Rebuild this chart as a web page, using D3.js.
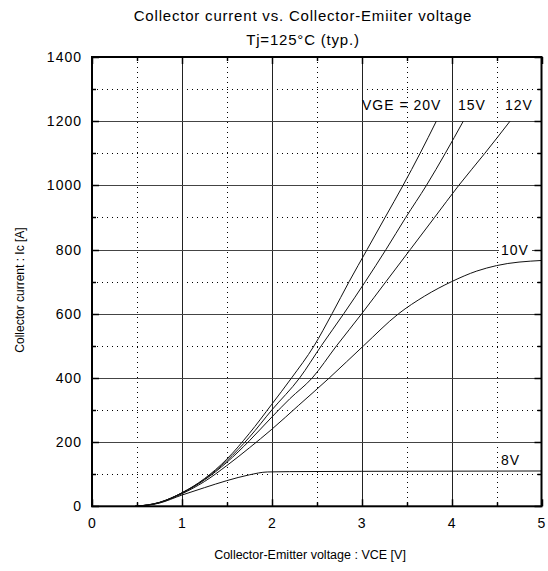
<!DOCTYPE html>
<html>
<head>
<meta charset="utf-8">
<script src="https://cdn.jsdelivr.net/npm/d3@7"></script>
<style>
  html, body { margin: 0; padding: 0; background: #fff; }
  svg text { font-family: "Liberation Sans", Arial, sans-serif; fill: #000; }
</style>
</head>
<body>
<svg id="chart" width="548" height="571"></svg>
<script>
// Output characteristics, Tj = 125 °C: [VCE (V), Ic (A)]
const vge20 = [[0.48,0],[0.75,12],[1,42],[1.25,86],[1.5,147],[1.75,227],[2,318],[2.22,400],[2.47,500],[2.67,600],[2.86,700],[3.06,800],[3.26,900],[3.46,1000],[3.65,1100],[3.83,1200]];
const vge15 = [[0.48,0],[0.75,12],[1,42],[1.25,84],[1.5,142],[1.75,215],[2,300],[2.31,400],[2.55,500],[2.8,600],[3.04,700],[3.27,800],[3.49,900],[3.72,1000],[3.93,1100],[4.13,1200]];
const vge12 = [[0.48,0],[0.75,12],[1,41],[1.25,82],[1.5,137],[1.75,204],[2,278],[2.2,335],[2.45,400],[2.72,500],[3.0,600],[3.27,700],[3.54,800],[3.81,900],[4.08,1000],[4.37,1100],[4.65,1200]];
const vge10 = [[0.48,0],[0.75,11],[1,39],[1.25,77],[1.5,127],[1.75,182],[2,240],[2.3,315],[2.64,400],[3.02,500],[3.41,600],[3.7,655],[4.0,700],[4.28,733],[4.5,750],[5,766]];
const vge8  = [[0.48,0],[0.75,10],[1,35],[1.25,58],[1.5,80],[1.75,98],[1.95,107],[2.2,108],[3,109],[5,110]];

const seriesList = [vge20, vge15, vge12, vge10, vge8];

const xMajor = [0, 1, 2, 3, 4, 5];
const xMinor = [0.5, 1.5, 2.5, 3.5, 4.5];
const yMajor = [0, 200, 400, 600, 800, 1000, 1200, 1400];
const yMinor = [100, 300, 500, 700, 900, 1100, 1300];

const titleLines = ["Collector current vs. Collector-Emiiter voltage", "Tj=125°C (typ.)"];
const xTitle = "Collector-Emitter voltage : VCE [V]";
const yTitle = "Collector current : Ic [A]";

const svg = d3.select("#chart");
const L = 92, R = 541.5, T = 57, B = 506.3;

const x = d3.scaleLinear().domain([0, 5]).range([L, R]);
const y = d3.scaleLinear().domain([0, 1400]).range([B, T]);

// minor grid (dotted)
const grid = svg.append("g");
grid.selectAll(".vmin").data(xMinor).join("line")
  .attr("x1", d => Math.round(x(d)) + 0.5).attr("x2", d => Math.round(x(d)) + 0.5)
  .attr("y1", T).attr("y2", B)
  .attr("stroke", "#000").attr("stroke-width", 1).attr("stroke-dasharray", "1,4");
grid.selectAll(".hmin").data(yMinor).join("line")
  .attr("x1", L).attr("x2", R)
  .attr("y1", d => Math.round(y(d)) + 0.5).attr("y2", d => Math.round(y(d)) + 0.5)
  .attr("stroke", "#000").attr("stroke-width", 1).attr("stroke-dasharray", "1,4");

// major grid (solid)
grid.selectAll(".vmaj").data(xMajor.slice(1, -1)).join("line")
  .attr("x1", d => Math.round(x(d)) + 0.5).attr("x2", d => Math.round(x(d)) + 0.5)
  .attr("y1", T).attr("y2", B)
  .attr("stroke", "#222").attr("stroke-width", 1);
grid.selectAll(".hmaj").data(yMajor.slice(1, -1)).join("line")
  .attr("x1", L).attr("x2", R)
  .attr("y1", d => Math.round(y(d)) + 0.5).attr("y2", d => Math.round(y(d)) + 0.5)
  .attr("stroke", "#444").attr("stroke-width", 1);

// inward ticks on all four sides
const ticks = svg.append("g").attr("stroke", "#000").attr("stroke-width", 1.5);
function vTicks(vals, len) {
  vals.forEach(v => {
    const px = Math.round(x(v)) + 0.5;
    ticks.append("line").attr("x1", px).attr("x2", px).attr("y1", B).attr("y2", B - len);
    ticks.append("line").attr("x1", px).attr("x2", px).attr("y1", T).attr("y2", T + len);
  });
}
function hTicks(vals, len) {
  vals.forEach(v => {
    const py = Math.round(y(v)) + 0.5;
    ticks.append("line").attr("x1", L).attr("x2", L + len).attr("y1", py).attr("y2", py);
    ticks.append("line").attr("x1", R).attr("x2", R - len).attr("y1", py).attr("y2", py);
  });
}
vTicks(xMajor, 7); vTicks(xMinor, 4);
hTicks(yMajor, 7); hTicks(yMinor, 4);

// curves
const line = d3.line().x(d => x(d[0])).y(d => y(d[1])).curve(d3.curveMonotoneX);
svg.append("g").selectAll("path").data(seriesList).join("path")
  .attr("d", line).attr("fill", "none").attr("stroke", "#111").attr("stroke-width", 1);

// frame
svg.append("rect").attr("x", L).attr("y", T).attr("width", R - L).attr("height", B - T)
  .attr("fill", "none").attr("stroke", "#000").attr("stroke-width", 2);

// tick labels
svg.append("g").selectAll("text").data(xMajor).join("text")
  .attr("x", d => x(d)).attr("y", 528).attr("text-anchor", "middle")
  .attr("font-size", 14).text(d => d);
svg.append("g").selectAll("text").data(yMajor).join("text")
  .attr("x", 82).attr("y", d => y(d) + 5).attr("text-anchor", "end")
  .attr("font-size", 14).attr("letter-spacing", 1).text(d => d);

// curve labels
const lab = svg.append("g").attr("font-size", 14).attr("letter-spacing", 1);
lab.append("text").attr("x", 362).attr("y", 110).text("VGE = 20V");
lab.append("text").attr("x", 458).attr("y", 110).text("15V");
lab.append("text").attr("x", 505).attr("y", 110).text("12V");
lab.append("rect").attr("x", 499).attr("y", 242).attr("width", 33).attr("height", 14).attr("fill", "#fff");
lab.append("text").attr("x", 501).attr("y", 255).text("10V");
lab.append("text").attr("x", 501).attr("y", 465).text("8V");

// titles
svg.append("text").attr("x", 303).attr("y", 21).attr("text-anchor", "middle")
  .attr("font-size", 15).attr("letter-spacing", 0.8).text(titleLines[0]);
svg.append("text").attr("x", 303).attr("y", 45).attr("text-anchor", "middle")
  .attr("font-size", 15).attr("letter-spacing", 0.8).text(titleLines[1]);
svg.append("text").attr("x", 310).attr("y", 559).attr("text-anchor", "middle")
  .attr("font-size", 12.5).text(xTitle);
svg.append("text").attr("transform", "translate(24,290) rotate(-90)")
  .attr("text-anchor", "middle").attr("font-size", 12).text(yTitle);
</script>
</body>
</html>
